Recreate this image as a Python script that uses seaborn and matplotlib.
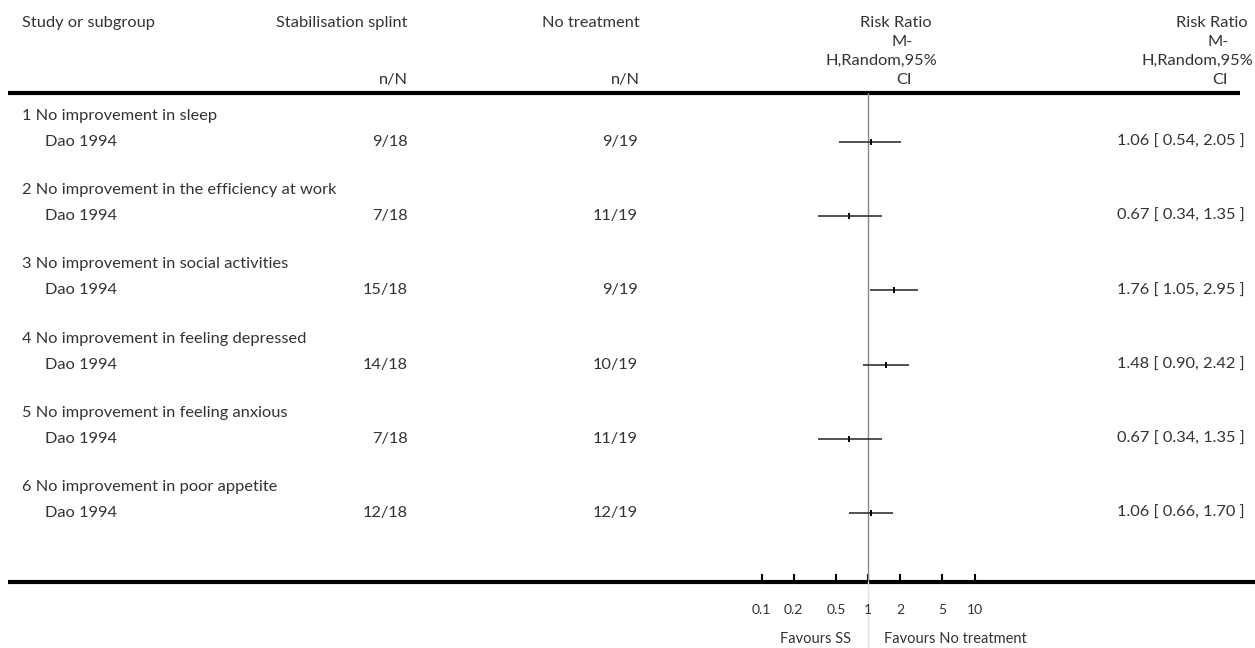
import matplotlib
matplotlib.use("Agg")
import matplotlib.pyplot as plt
import pandas as pd
import seaborn as sns

# data
groups = ["1 No improvement in sleep",
          "2 No improvement in the efficiency at work",
          "3 No improvement in social activities",
          "4 No improvement in feeling depressed",
          "5 No improvement in feeling anxious",
          "6 No improvement in poor appetite"]
study = ["Dao 1994"] * 6
ss_events = ["9/18", "7/18", "15/18", "14/18", "7/18", "12/18"]
nt_events = ["9/19", "11/19", "9/19", "10/19", "11/19", "12/19"]
rr = [1.06, 0.67, 1.76, 1.48, 0.67, 1.06]
ci_low = [0.54, 0.34, 1.05, 0.90, 0.34, 0.66]
ci_high = [2.05, 1.35, 2.95, 2.42, 1.35, 1.70]
axis_ticks = [0.1, 0.2, 0.5, 1, 2, 5, 10]
axis_labels = ["0.1", "0.2", "0.5", "1", "2", "5", "10"]

W, H = 1255, 648
sns.set_theme(style="white")
plt.rcParams['font.family'] = ['Lato', 'DejaVu Sans']
TXT = "#333333"
FS = 11.8

fig = plt.figure(figsize=(W / 100, H / 100), dpi=100)
bg = fig.add_axes([0, 0, 1, 1])
bg.set_xlim(0, W)
bg.set_ylim(H, 0)
bg.axis('off')

# layout in pixels
y_head, y_axis = 93, 582
row0, row_step, sub_off = 116, 74.2, 26
x0, x1, centre, px_dec = 700, 1036, 868, 106.5

group_y = [row0 + i * row_step for i in range(len(groups))]
study_y = [g + sub_off for g in group_y]

df = pd.DataFrame({"group": groups, "study": study, "ss": ss_events,
                   "nt": nt_events, "rr": rr, "lo": ci_low, "hi": ci_high,
                   "y": study_y})

# header
bg.text(22, 23, "Study or subgroup", fontsize=FS, color=TXT, va='center')
bg.text(408, 23, "Stabilisation splint", fontsize=FS, color=TXT, va='center', ha='right')
bg.text(408, 80, "n/N", fontsize=FS, color=TXT, va='center', ha='right')
bg.text(640, 23, "No treatment", fontsize=FS, color=TXT, va='center', ha='right')
bg.text(640, 80, "n/N", fontsize=FS, color=TXT, va='center', ha='right')
for cx in (896, 1212):
    for dx, dy, s in [(0, 23, "Risk Ratio"), (6, 42, "M-"),
                      (-15, 61, "H,Random,95%"), (8, 80, "CI")]:
        bg.text(cx + dx, dy, s, fontsize=FS, color=TXT, va='center', ha='center')

bg.plot([8, 1240], [y_head, y_head], color='black', lw=3, solid_capstyle='butt')
bg.plot([8, W], [y_axis, y_axis], color='black', lw=3, solid_capstyle='butt')

# table rows
for _, r in df.iterrows():
    bg.text(22, r.y - sub_off, r.group, fontsize=FS, color=TXT, va='center')
    bg.text(45, r.y, r.study, fontsize=FS, color=TXT, va='center')
    bg.text(408, r.y, r.ss, fontsize=FS, color=TXT, va='center', ha='right')
    bg.text(638, r.y, r.nt, fontsize=FS, color=TXT, va='center', ha='right')
    bg.text(1245, r.y, f"{r.rr:.2f} [ {r.lo:.2f}, {r.hi:.2f} ]",
            fontsize=FS, color=TXT, va='center', ha='right')

# forest panel
fx = fig.add_axes([x0 / W, 1 - y_axis / H, (x1 - x0) / W, (y_axis - y_head) / H])
fx.set_facecolor('none')
fx.set_xscale('log')
fx.set_xlim(10 ** ((x0 - centre) / px_dec), 10 ** ((x1 - centre) / px_dec))
fx.set_ylim(y_axis, y_head)
fx.axvline(1, color='#8a8a8a', lw=1, zorder=1)
fx.hlines(df["y"], df["lo"], df["hi"], color='#333333', lw=1.2, zorder=2)
sns.scatterplot(data=df, x="rr", y="y", marker='|', s=22, color='black',
                linewidth=1.4, ax=fx, zorder=3, legend=False)
for sp in fx.spines.values():
    sp.set_visible(False)
fx.set_yticks([])
fx.set_xticks(axis_ticks)
fx.set_xticklabels(axis_labels)
fx.minorticks_off()
fx.tick_params(axis='x', direction='in', length=6, width=1.5, color='black',
               pad=16, labelsize=10, labelcolor=TXT, bottom=True)
fx.set_xlabel("")
fx.set_ylabel("")

bg.plot([centre, centre], [y_axis, H], color='#e2e2e2', lw=1)
bg.text(centre - 17, 639, "Favours SS", fontsize=10.5, color=TXT, va='center', ha='right')
bg.text(centre + 16, 639, "Favours No treatment", fontsize=10.5, color=TXT, va='center', ha='left')

fig.savefig("out.png", dpi=100)
